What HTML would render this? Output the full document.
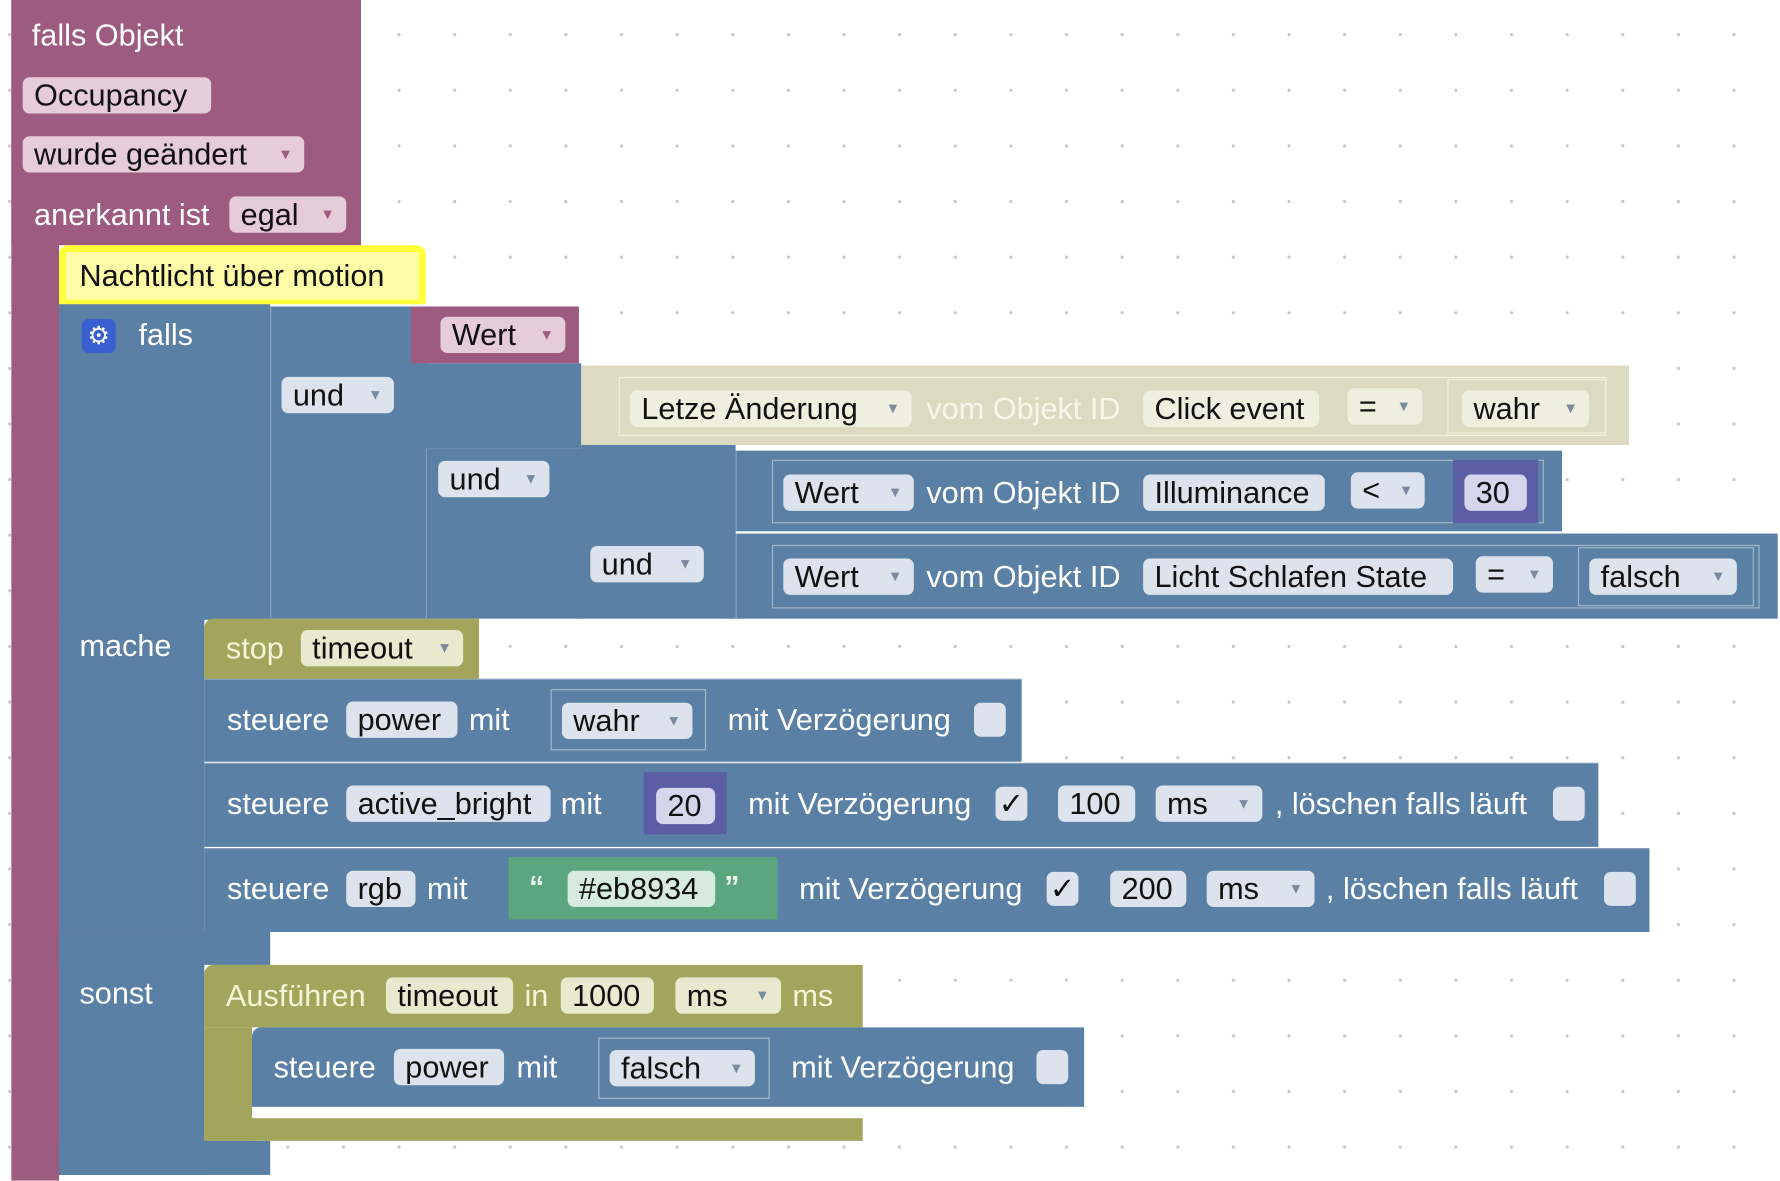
<!DOCTYPE html>
<html><head><meta charset="utf-8"><style>
html,body{margin:0;padding:0;width:1780px;height:1181px;overflow:hidden;background:#fff}
#c{position:absolute;left:0;top:0;width:1568px;height:1040px;transform:scale(1.13520);transform-origin:0 0;
background-image:radial-gradient(circle,#c8c8c8 1.3px,transparent 1.6px);background-size:49px 49px;background-position:327px 6px;
font-family:"Liberation Sans",Arial,sans-serif;font-size:27px}
.b{position:absolute}
.t{position:absolute;height:34px;line-height:34px;color:#fff;white-space:nowrap}
.f{position:absolute;height:32px;line-height:32px;border-radius:6px;background:#dde3ec;color:#111;white-space:nowrap;padding-left:10px;box-sizing:border-box}
.fp{background:#e6cbd9}
.fo{background:#e8e9cf}
.fy{background:#efefe0}
.fn{background:#d5d6ec}
.fg{background:#d6eadf}
.ar{font-size:13px;color:#7a8aa0;position:absolute;right:10px;top:0}
.o{position:absolute;border:1px solid rgba(255,255,255,0.45);box-sizing:border-box}
.cb{position:absolute;width:28px;height:30px;border-radius:6px;background:#dde3ec}
</style></head><body><div id="c">
<!-- purple -->
<div class="b" style="left:10px;top:0;width:308px;height:216px;background:#9d5b7f"></div>
<div class="b" style="left:10px;top:0;width:42px;height:1040px;background:#9d5b7f"></div>
<div class="t" style="left:28px;top:14px">falls Objekt</div>
<div class="f fp" style="left:20px;top:68px;width:166px">Occupancy</div>
<div class="f fp" style="left:20px;top:120px;width:248px">wurde geändert<span class="ar" style="color:#9d5b7f">▼</span></div>
<div class="t" style="left:30px;top:172px">anerkannt ist</div>
<div class="f fp" style="left:202px;top:173px;width:103px">egal<span class="ar" style="color:#9d5b7f">▼</span></div>
<!-- blue main -->
<div class="b" style="left:52px;top:260px;width:186px;height:286px;background:#5b80a5"></div>
<div class="b" style="left:52px;top:545px;width:128px;height:490px;background:#5b80a5"></div>
<div class="b" style="left:52px;top:820px;width:186px;height:30px;background:#5b80a5"></div>
<div class="b" style="left:52px;top:1005px;width:186px;height:30px;background:#5b80a5"></div>
<div class="b" style="left:238px;top:270px;width:137px;height:275px;background:#5b80a5;border-left:1px solid #86a0bd"></div>
<div class="b" style="left:375px;top:395px;width:137px;height:150px;background:#5b80a5;border-left:1px solid #86a0bd"></div>
<div class="b" style="left:375px;top:320px;width:137px;height:75px;background:#5b80a5"></div>
<div class="b" style="left:512px;top:392px;width:136px;height:153px;background:#5b80a5"></div>
<!-- comment -->
<div class="b" style="left:52px;top:216px;width:323px;height:52px;background:#ffff3a;border-radius:8px 8px 0 0"></div>
<div class="b" style="left:58px;top:222px;width:311px;height:42px;background:#fffca8"></div>
<div class="t" style="left:70px;top:226px;color:#111">Nachtlicht über motion</div>
<!-- falls -->
<div class="b" style="left:72px;top:281px;width:30px;height:30px;border-radius:6px;background:#3a5fd0;color:#fff;font-size:22px;line-height:30px;text-align:center">⚙</div>
<div class="t" style="left:122px;top:278px">falls</div>
<div class="f" style="left:248px;top:332px;width:99px">und<span class="ar">▼</span></div>
<div class="b" style="left:362px;top:270px;width:148px;height:50px;background:#9d5b7f"></div>
<div class="f fp" style="left:388px;top:279px;width:110px">Wert<span class="ar" style="color:#9d5b7f">▼</span></div>
<div class="f" style="left:386px;top:406px;width:98px">und<span class="ar">▼</span></div>
<div class="f" style="left:520px;top:481px;width:100px">und<span class="ar">▼</span></div>
<!-- beige -->
<div class="b" style="left:512px;top:322px;width:923px;height:70px;background:#dcdbc1"></div>
<div class="o" style="left:545px;top:332px;width:870px;height:52px;border-color:#f2f1dc"></div>
<div class="f fy" style="left:555px;top:344px;width:248px">Letze Änderung<span class="ar">▼</span></div>
<div class="t" style="left:816px;top:343px;color:#f6f6ea">vom Objekt ID</div>
<div class="f fy" style="left:1007px;top:344px;width:155px">Click event</div>
<div class="f fy" style="left:1187px;top:342px;width:66px">=<span class="ar">▼</span></div>
<div class="o" style="left:1275px;top:334px;width:140px;height:48px;border-color:#f2f1dc"></div>
<div class="f fy" style="left:1288px;top:344px;width:112px">wahr<span class="ar">▼</span></div>
<!-- compare 1 -->
<div class="b" style="left:648px;top:397px;width:727px;height:71px;background:#5b80a5;border-left:1px solid #86a0bd"></div>
<div class="o" style="left:680px;top:405px;width:680px;height:56px"></div>
<div class="f" style="left:690px;top:418px;width:115px">Wert<span class="ar">▼</span></div>
<div class="t" style="left:816px;top:417px">vom Objekt ID</div>
<div class="f" style="left:1007px;top:418px;width:160px">Illuminance</div>
<div class="f" style="left:1190px;top:416px;width:65px">&lt;<span class="ar">▼</span></div>
<div class="b" style="left:1280px;top:405px;width:75px;height:56px;background:#5b5ea5"></div>
<div class="f fn" style="left:1290px;top:418px;width:55px">30</div>
<!-- compare 2 -->
<div class="b" style="left:648px;top:470px;width:917px;height:75px;background:#5b80a5;border-left:1px solid #86a0bd"></div>
<div class="o" style="left:680px;top:480px;width:870px;height:56px"></div>
<div class="f" style="left:690px;top:492px;width:115px">Wert<span class="ar">▼</span></div>
<div class="t" style="left:816px;top:491px">vom Objekt ID</div>
<div class="f" style="left:1007px;top:492px;width:273px">Licht Schlafen State</div>
<div class="f" style="left:1300px;top:490px;width:68px">=<span class="ar">▼</span></div>
<div class="o" style="left:1390px;top:482px;width:155px;height:52px"></div>
<div class="f" style="left:1400px;top:492px;width:130px">falsch<span class="ar">▼</span></div>
<!-- mache -->
<div class="t" style="left:70px;top:552px">mache</div>
<div class="b" style="left:180px;top:545px;width:242px;height:53px;background:#a3a55c;border-radius:8px 0 0 0"></div>
<div class="t" style="left:199px;top:554px;color:#f4f4d8">stop</div>
<div class="f fo" style="left:265px;top:555px;width:143px">timeout<span class="ar">▼</span></div>
<div class="b" style="left:180px;top:598px;width:720px;height:72px;background:#5b80a5;border-top:1px solid #86a0bd"></div>
<div class="t" style="left:200px;top:617px">steuere</div>
<div class="f" style="left:305px;top:618px;width:98px">power</div>
<div class="t" style="left:413px;top:617px">mit</div>
<div class="o" style="left:485px;top:607px;width:137px;height:54px"></div>
<div class="f" style="left:495px;top:619px;width:115px">wahr<span class="ar">▼</span></div>
<div class="t" style="left:641px;top:617px">mit Verzögerung</div>
<div class="cb" style="left:858px;top:619px"></div>
<div class="b" style="left:180px;top:672px;width:1228px;height:73px;background:#5b80a5;border-top:1px solid #86a0bd"></div>
<div class="t" style="left:200px;top:691px">steuere</div>
<div class="f" style="left:305px;top:692px;width:180px">active_bright</div>
<div class="t" style="left:494px;top:691px">mit</div>
<div class="b" style="left:567px;top:680px;width:73px;height:55px;background:#5b5ea5"></div>
<div class="f fn" style="left:578px;top:694px;width:52px">20</div>
<div class="t" style="left:659px;top:691px">mit Verzögerung</div>
<div class="cb" style="left:877px;top:693px;color:#111;text-align:center;line-height:30px">✓</div>
<div class="f" style="left:932px;top:692px;width:68px">100</div>
<div class="f" style="left:1018px;top:692px;width:94px">ms<span class="ar">▼</span></div>
<div class="t" style="left:1123px;top:691px">, löschen falls läuft</div>
<div class="cb" style="left:1368px;top:693px"></div>
<div class="b" style="left:180px;top:747px;width:1273px;height:73px;background:#5b80a5;border-top:1px solid #86a0bd"></div>
<div class="t" style="left:200px;top:766px">steuere</div>
<div class="f" style="left:305px;top:767px;width:61px">rgb</div>
<div class="t" style="left:376px;top:766px">mit</div>
<div class="b" style="left:448px;top:755px;width:237px;height:55px;background:#5ba57f"></div>
<div class="t" style="left:466px;top:764px;font-weight:bold;color:#e8f4ec">“</div>
<div class="f fg" style="left:500px;top:767px;width:130px">#eb8934</div>
<div class="t" style="left:638px;top:764px;font-weight:bold;color:#e8f4ec">”</div>
<div class="t" style="left:704px;top:766px">mit Verzögerung</div>
<div class="cb" style="left:922px;top:768px;color:#111;text-align:center;line-height:30px">✓</div>
<div class="f" style="left:978px;top:767px;width:67px">200</div>
<div class="f" style="left:1063px;top:767px;width:95px">ms<span class="ar">▼</span></div>
<div class="t" style="left:1168px;top:766px">, löschen falls läuft</div>
<div class="cb" style="left:1413px;top:768px"></div>
<!-- sonst -->
<div class="t" style="left:70px;top:858px">sonst</div>
<div class="b" style="left:180px;top:850px;width:580px;height:55px;background:#a3a55c;border-radius:8px 0 0 0"></div>
<div class="b" style="left:180px;top:905px;width:42px;height:100px;background:#a3a55c"></div>
<div class="b" style="left:180px;top:985px;width:580px;height:20px;background:#a3a55c"></div>
<div class="t" style="left:199px;top:860px;color:#f4f4d8">Ausführen</div>
<div class="f fo" style="left:340px;top:861px;width:112px">timeout</div>
<div class="t" style="left:462px;top:860px;color:#f4f4d8">in</div>
<div class="f fo" style="left:494px;top:861px;width:82px">1000</div>
<div class="f fo" style="left:595px;top:861px;width:93px">ms<span class="ar">▼</span></div>
<div class="t" style="left:698px;top:860px;color:#f4f4d8">ms</div>
<div class="b" style="left:222px;top:905px;width:733px;height:70px;background:#5b80a5;border-radius:8px 0 0 0"></div>
<div class="t" style="left:241px;top:923px">steuere</div>
<div class="f" style="left:347px;top:924px;width:97px">power</div>
<div class="t" style="left:455px;top:923px">mit</div>
<div class="o" style="left:527px;top:914px;width:151px;height:54px"></div>
<div class="f" style="left:537px;top:925px;width:128px">falsch<span class="ar">▼</span></div>
<div class="t" style="left:697px;top:923px">mit Verzögerung</div>
<div class="cb" style="left:913px;top:925px"></div>
</div></body></html>
